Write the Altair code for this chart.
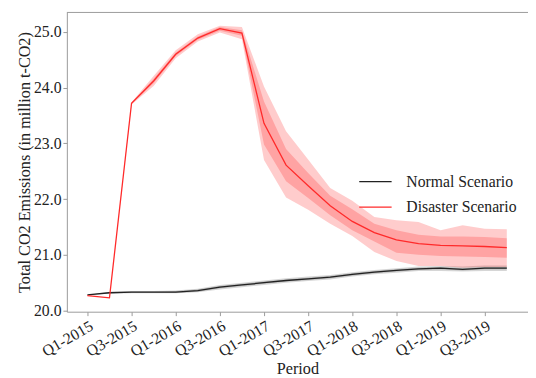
import altair as alt
import pandas as pd

# ---- data ----
period_index = list(range(20))
tick_positions = [0, 2, 4, 6, 8, 10, 12, 14, 16, 18]
tick_labels = ["Q1-2015", "Q3-2015", "Q1-2016", "Q3-2016", "Q1-2017",
               "Q3-2017", "Q1-2018", "Q3-2018", "Q1-2019", "Q3-2019"]
scenarios = ["Normal Scenario", "Disaster Scenario"]

normal_mean = [20.28, 20.32, 20.33, 20.33, 20.33, 20.36, 20.42, 20.46, 20.50, 20.54,
               20.57, 20.60, 20.65, 20.69, 20.72, 20.75, 20.76, 20.74, 20.76, 20.76]
normal_in_lo = [20.28, 20.31, 20.32, 20.32, 20.32, 20.34, 20.40, 20.44, 20.48, 20.52,
                20.55, 20.58, 20.63, 20.67, 20.70, 20.73, 20.74, 20.72, 20.74, 20.74]
normal_in_hi = [20.28, 20.33, 20.34, 20.34, 20.35, 20.38, 20.44, 20.48, 20.52, 20.56,
                20.59, 20.62, 20.67, 20.71, 20.74, 20.77, 20.78, 20.76, 20.78, 20.78]
normal_out_lo = [20.28, 20.30, 20.31, 20.31, 20.31, 20.33, 20.38, 20.42, 20.46, 20.50,
                 20.53, 20.56, 20.61, 20.65, 20.68, 20.71, 20.71, 20.70, 20.71, 20.71]
normal_out_hi = [20.28, 20.34, 20.35, 20.35, 20.36, 20.39, 20.46, 20.50, 20.54, 20.58,
                 20.61, 20.64, 20.69, 20.73, 20.76, 20.79, 20.80, 20.79, 20.81, 20.81]

disaster_mean = [20.27, 20.23, 23.72, 24.12, 24.60, 24.89, 25.06, 24.98, 23.36, 22.61,
                 22.24, 21.88, 21.60, 21.40, 21.27, 21.20, 21.17, 21.16, 21.15, 21.13]
disaster_in_lo = [20.27, 20.23, 23.71, 24.08, 24.57, 24.86, 25.02, 24.93, 22.98, 22.32,
                  22.02, 21.71, 21.44, 21.24, 21.04, 21.00, 20.98, 20.97, 20.96, 20.95]
disaster_in_hi = [20.27, 20.23, 23.73, 24.16, 24.63, 24.92, 25.09, 25.03, 23.75, 22.90,
                  22.47, 22.06, 21.82, 21.56, 21.44, 21.36, 21.33, 21.33, 21.32, 21.30]
disaster_out_lo = [20.27, 20.23, 23.70, 24.03, 24.53, 24.83, 24.99, 24.87, 22.70, 22.03,
                   21.81, 21.56, 21.34, 21.05, 20.89, 20.80, 20.80, 20.77, 20.78, 20.78]
disaster_out_hi = [20.27, 20.23, 23.74, 24.21, 24.67, 24.96, 25.11, 25.09, 24.02, 23.22,
                   22.71, 22.20, 21.97, 21.68, 21.62, 21.59, 21.44, 21.53, 21.47, 21.46]

rows = []
for s, m, il, ih, ol, oh in [
    (scenarios[0], normal_mean, normal_in_lo, normal_in_hi, normal_out_lo, normal_out_hi),
    (scenarios[1], disaster_mean, disaster_in_lo, disaster_in_hi, disaster_out_lo, disaster_out_hi),
]:
    for k, i in enumerate(period_index):
        rows.append({"idx": i, "scenario": s, "band": s, "mean": m[k], "in_lo": il[k],
                     "in_hi": ih[k], "out_lo": ol[k], "out_hi": oh[k]})
df = pd.DataFrame(rows)

FONT = "Liberation Serif"
TXT = "#222222"
SPINE = "#9a9a9a"
W, H = 470, 305

label_expr = "[" + ",".join(f"'{t}'" for t in tick_labels) + "][datum.value/2]"

axis_style = dict(grid=False, domainColor=SPINE, tickColor=SPINE, tickSize=4, labelPadding=2,
                  labelFont=FONT, titleFont=FONT,
                  labelFontSize=16, labelColor=TXT, labelOverlap=False,
                  titleFontSize=16.5, titleFontWeight="normal", titleColor=TXT)

x_enc = alt.X("idx:Q",
              scale=alt.Scale(domain=[-0.93, 19.96], nice=False, zero=False),
              axis=alt.Axis(values=tick_positions, labelExpr=label_expr, labelAngle=-30,
                            labelAlign="right", labelBaseline="top",
                            title="Period", titleY=50, **axis_style))
y_scale = alt.Scale(domain=[19.98, 25.35], nice=False, zero=False)
y_axis = alt.Axis(values=[20, 21, 22, 23, 24, 25], format=".1f",
                  title="Total CO2 Emissions (in million t-CO2)", titleX=-35, **axis_style)

fill_scale = alt.Scale(domain=scenarios, range=["#333333", "#ff0000"])
base = alt.Chart(df).encode(x=x_enc)

outer = base.mark_area(opacity=0.2, interpolate="linear").encode(
    y=alt.Y("out_lo:Q", scale=y_scale, axis=y_axis),
    y2="out_hi:Q",
    fill=alt.Fill("band:N", scale=fill_scale, legend=None),
)
inner = base.mark_area(opacity=0.2, interpolate="linear").encode(
    y=alt.Y("in_lo:Q", scale=y_scale),
    y2="in_hi:Q",
    fill=alt.Fill("band:N", scale=fill_scale, legend=None),
)
lines = base.mark_line(strokeWidth=1.3).encode(
    y=alt.Y("mean:Q", scale=y_scale),
    color=alt.Color("scenario:N",
                    scale=alt.Scale(domain=scenarios, range=["#222222", "#ff2a2a"]),
                    legend=alt.Legend(title=None, orient="none", legendX=297, legendY=155,
                                      symbolType="stroke", symbolSize=1089,
                                      symbolStrokeWidth=1.3, labelFontSize=16,
                                      labelFont=FONT, labelColor=TXT, labelOffset=14,
                                      rowPadding=-3, padding=0)),
)
top_spine = alt.Chart(pd.DataFrame({"a": [0]})).mark_rule(color=SPINE, strokeWidth=1).encode(
    x=alt.value(0), x2=alt.value(W), y=alt.value(0))

chart = alt.layer(outer, inner, lines, top_spine).properties(
    width=W, height=H,
    autosize=alt.AutoSizeParams(type="none"),
    padding={"left": 60, "top": 1, "right": 0, "bottom": 62},
).resolve_legend(fill="independent", color="independent").configure(
    font=FONT,
    style={"guide-label": {"font": FONT}, "guide-title": {"font": FONT}},
).configure_view(
    stroke=None
)

chart.save("out.html", embed_options={"renderer": "svg", "actions": False})
